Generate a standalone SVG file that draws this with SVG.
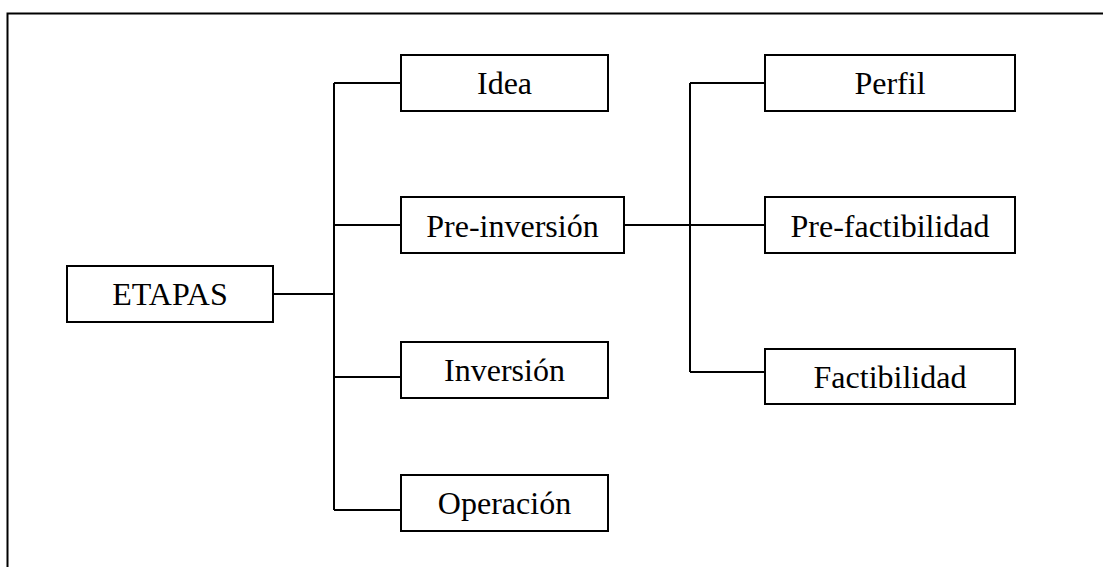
<svg xmlns="http://www.w3.org/2000/svg" width="1103" height="567" viewBox="0 0 1103 567">
<style>
.box{fill:#fff;stroke:#000;stroke-width:2}
.lbl{font-family:"Liberation Serif","Times New Roman",serif;font-size:32px;fill:#000;text-anchor:middle}
.con{fill:none;stroke:#000;stroke-width:2}
.frame{fill:none;stroke:#000;stroke-width:2}
</style>
<rect width="1103" height="567" fill="#fff"/>
<path class="frame" d="M7.5,567 V13.5 H1103"/>
<g id="connectors">
<path class="con" d="M273,294 H334"/>
<path class="con" d="M334,83 V510"/>
<path class="con" d="M334,83 H401"/>
<path class="con" d="M334,225 H401"/>
<path class="con" d="M334,377 H401"/>
<path class="con" d="M334,510 H401"/>
<path class="con" d="M624,225 H765"/>
<path class="con" d="M690,83 V372"/>
<path class="con" d="M690,83 H765"/>
<path class="con" d="M690,372 H765"/>
</g>
<g id="etapas"><rect class="box" x="67" y="266" width="206" height="56"/><text class="lbl" x="170" y="305">ETAPAS</text></g>
<g id="idea"><rect class="box" x="401" y="55" width="207" height="56"/><text class="lbl" x="504.5" y="94">Idea</text></g>
<g id="preinversion"><rect class="box" x="401" y="197" width="223" height="56"/><text class="lbl" x="512.5" y="236.5">Pre-inversión</text></g>
<g id="inversion"><rect class="box" x="401" y="342" width="207" height="56"/><text class="lbl" x="504.5" y="381">Inversión</text></g>
<g id="operacion"><rect class="box" x="401" y="475" width="207" height="56"/><text class="lbl" x="504.5" y="514">Operación</text></g>
<g id="perfil"><rect class="box" x="765" y="55" width="250" height="56"/><text class="lbl" x="890" y="94">Perfil</text></g>
<g id="prefactibilidad"><rect class="box" x="765" y="197" width="250" height="56"/><text class="lbl" x="890" y="236.5">Pre-factibilidad</text></g>
<g id="factibilidad"><rect class="box" x="765" y="349" width="250" height="55"/><text class="lbl" x="890" y="387.5">Factibilidad</text></g>
</svg>
